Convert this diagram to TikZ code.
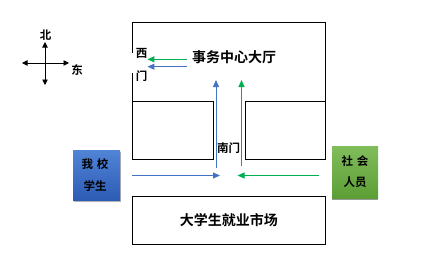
\documentclass[tikz,border=0pt]{standalone}
\usepackage{fontspec}
\setmainfont{Noto Sans CJK SC}[BoldFont={Noto Sans CJK SC Bold}]
\usetikzlibrary{arrows.meta}
\definecolor{ablue}{HTML}{4472C4}
\definecolor{agreen}{HTML}{00B050}
\definecolor{btop}{HTML}{5084D6}
\definecolor{bbot}{HTML}{2D5BB5}
\definecolor{gtop}{HTML}{82BD5C}
\definecolor{gbot}{HTML}{5C9E35}
\tikzset{
  wall/.style={draw=black, line width=0.8pt},
  lbl/.style={font=\bfseries\fontsize{14}{16}\selectfont, inner sep=0pt},
  slbl/.style={font=\bfseries\fontsize{11.5}{13}\selectfont, inner sep=0pt},
  barrow/.style={draw=ablue, line width=1pt, -{Triangle[length=7pt,width=6pt]}},
  garrow/.style={draw=agreen, line width=1pt, -{Triangle[length=7pt,width=6pt]}},
  karrow/.style={draw=black, line width=0.9pt, -{Triangle[length=5.5pt,width=5.5pt]}},
}
\begin{document}
\begin{tikzpicture}[x=1pt,y=-1pt]
\useasboundingbox (0,0) rectangle (428,279);
% compass
\coordinate (cc) at (45,63);
\coordinate (cw) at (22,63);
\coordinate (ce) at (69,63);
\coordinate (cn) at (45,42);
\coordinate (cs) at (45,85);
\draw[karrow] (cc) -- (cw);
\draw[karrow] (cc) -- (ce);
\draw[karrow] (cc) -- (cn);
\draw[karrow] (cc) -- (cs);
\node[slbl] (north) at (45.5,35.5) {北};
\node[slbl] (east) at (77,70) {东};
% building outline
\draw[wall] (132,53) -- (132,22) -- (325,22) -- (325,159) -- (245,159) -- (245,101) -- (325,101);
\draw[wall] (132,73) -- (132,159) -- (213,159) -- (213,101) -- (132,101);
% bottom building
\node[wall, minimum width=193pt, minimum height=48pt, anchor=north west, inner sep=0pt] (market) at (132,196) {};
\node[lbl] (markettext) at (market.center) {大学生就业市场};
% labels
\node[lbl] (hall) at (234,57) {事务中心大厅};
\node[slbl] (westa) at (141.5,53) {西};
\node[slbl] (westb) at (141.5,76.5) {门};
\node[slbl] (south) at (228.5,148) {南门};
% people boxes
\fill[gray!60] (74,152) rectangle (121,202);
\shade[top color=btop, bottom color=bbot] (73,150) rectangle (120,200);
\node[inner sep=0pt, minimum width=47pt, minimum height=50pt] (stud) at (96.5,175) {};
\node[slbl] at (95,164) {我\hspace{4pt}校};
\node[slbl] at (95,186.5) {学生};
\fill[gray!80] (332,147) rectangle (378,200);
\shade[top color=gtop, bottom color=gbot] (332,146) rectangle (378,198);
\node[inner sep=0pt, minimum width=46pt, minimum height=52pt] (soc) at (355,172) {};
\node[slbl] at (355,161.5) {社\hspace{4pt}会};
\node[slbl] at (355,182.5) {人员};
% arrows
\coordinate (bs) at (132,175.5);
\coordinate (bt) at (220,175.5);
\coordinate (gs) at (319,175.5);
\coordinate (gt) at (237.5,175.5);
\draw[barrow] (bs) -- (bt);
\draw[garrow] (gs) -- (gt);
\coordinate (bvs) at (216,168);
\coordinate (bvt) at (216,80);
\coordinate (gvs) at (241.5,166);
\coordinate (gvt) at (241.5,80);
\draw[barrow] (bvs) -- (bvt);
\draw[garrow] (gvs) -- (gvt);
\coordinate (wgs) at (187,59.3);
\coordinate (wbs) at (187,66.7);
\draw[garrow] (wgs) -- (westa.east |- wgs);
\draw[barrow] (wbs) -- (westa.east |- wbs);
\end{tikzpicture}
\end{document}
